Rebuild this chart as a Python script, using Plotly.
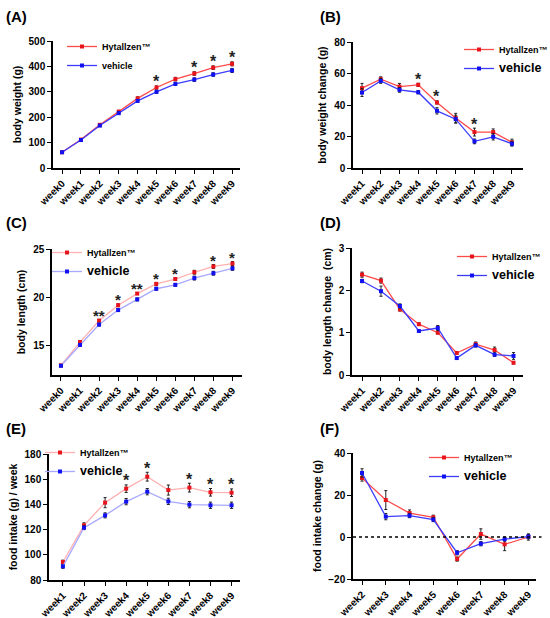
import plotly.graph_objects as go

# categories
weeks_a = ['week0', 'week1', 'week2', 'week3', 'week4', 'week5', 'week6', 'week7', 'week8', 'week9']
weeks_b = weeks_a[1:]
weeks_f = weeks_a[2:]

# (A) body weight (g)
bw_hyt = [62, 112, 170, 222, 274, 317, 350, 372, 395, 410]
bw_hyt_err = [3, 3, 4, 5, 6, 6, 7, 7, 7, 8]
bw_veh = [62, 110, 167, 216, 264, 300, 331, 348, 368, 384]
bw_veh_err = [3, 3, 4, 5, 5, 6, 6, 7, 7, 8]
bw_stars = ['', '', '', '', '', '*', '', '*', '*', '*']

# (B) body weight change (g)
bwc_hyt = [50.7, 56.4, 51.7, 52.8, 41.6, 31.7, 22.8, 22.8, 16.3]
bwc_hyt_err = [3, 1.5, 2, 1, 1, 3, 2.5, 2, 2]
bwc_veh = [47.9, 55.3, 49.6, 48.1, 36.3, 31.0, 16.9, 19.8, 15.4]
bwc_veh_err = [2.5, 1.5, 1.5, 1, 2, 2.5, 1.5, 2, 1.5]
bwc_stars = ['', '', '', '*', '*', '', '*', '', '']

# (C) body length (cm)
bl_hyt = [13.0, 15.4, 17.6, 19.2, 20.4, 21.4, 21.9, 22.6, 23.2, 23.5]
bl_hyt_err = [0.1, 0.15, 0.15, 0.15, 0.1, 0.15, 0.15, 0.2, 0.2, 0.2]
bl_veh = [12.95, 15.1, 17.2, 18.7, 19.8, 20.9, 21.3, 22.0, 22.5, 23.0]
bl_veh_err = [0.1, 0.15, 0.15, 0.15, 0.15, 0.15, 0.15, 0.2, 0.2, 0.2]
bl_stars = ['', '', '**', '*', '**', '*', '*', '', '*', '*']

# (D) body length change (cm)
blc_hyt = [2.37, 2.23, 1.55, 1.20, 1.00, 0.52, 0.73, 0.59, 0.29]
blc_hyt_err = [0.06, 0.06, 0.04, 0.03, 0.03, 0.03, 0.05, 0.07, 0.03]
blc_veh = [2.22, 1.98, 1.63, 1.04, 1.11, 0.40, 0.70, 0.48, 0.45]
blc_veh_err = [0.04, 0.12, 0.05, 0.03, 0.06, 0.03, 0.04, 0.04, 0.08]

# (E) food intake (g) / week
fi_hyt = [94.3, 123.4, 141.4, 152.5, 162.0, 151.4, 153.3, 149.6, 149.3]
fi_hyt_err = [1.5, 2, 4, 3, 3.5, 4, 3.5, 3, 3]
fi_veh = [90.8, 121.5, 131.3, 142.2, 150.1, 142.4, 139.8, 139.3, 139.3]
fi_veh_err = [1.5, 1.5, 2, 2.5, 2.5, 2.5, 2.5, 2.5, 2.5]
fi_stars = ['', '', '', '*', '*', '', '*', '*', '*']

# (F) food intake change (g)
fic_hyt = [28.1, 17.6, 11.4, 9.4, -10.5, 1.4, -3.5, 0.0]
fic_hyt_err = [1.5, 4.5, 1.5, 1, 1, 2.5, 3, 1.5]
fic_veh = [30.5, 9.7, 10.2, 8.3, -7.5, -3.2, -1.0, 0.2]
fic_veh_err = [2, 1.5, 1, 1, 1, 1, 1, 1]

W, H = 550, 618
FONT = 'Liberation Sans'

def px_x(p):
    return p / W

def px_y(p):
    return 1 - p / H

panels = [
    dict(tag='(A)', x=weeks_a, red=bw_hyt, rerr=bw_hyt_err, blue=bw_veh, berr=bw_veh_err,
         stars=bw_stars, ytitle='body weight (g)', yrange=[0, 500], dtick=100,
         xr=[-0.48, 9.42], dom_x=[53, 240], dom_y=[168, 41],
         light=False, leg=(62, 32), big_vehicle=False, tagpos=(4, 16), star_size=16),
    dict(tag='(B)', x=weeks_b, red=bwc_hyt, rerr=bwc_hyt_err, blue=bwc_veh, berr=bwc_veh_err,
         stars=bwc_stars, ytitle='body weight change (g)', yrange=[0, 80], dtick=20,
         xr=[-0.48, 8.59], dom_x=[353, 523], dom_y=[168, 42],
         light=False, leg=(459, 35), big_vehicle=True, tagpos=(318, 16), star_size=16),
    dict(tag='(C)', x=weeks_a, red=bl_hyt, rerr=bl_hyt_err, blue=bl_veh, berr=bl_veh_err,
         stars=bl_stars, ytitle='body length (cm)', yrange=[12, 25], dtick=5,
         xr=[-0.47, 9.5], dom_x=[52, 242], dom_y=[375, 249],
         light=True, leg=(47, 238), big_vehicle=True, tagpos=(4, 222), star_size=15),
    dict(tag='(D)', x=weeks_b, red=blc_hyt, rerr=blc_hyt_err, blue=blc_veh, berr=blc_veh_err,
         stars=None, ytitle='body length change  (cm)', yrange=[0, 3], dtick=1,
         xr=[-0.53, 8.5], dom_x=[352, 523], dom_y=[375, 248],
         light=False, leg=(452, 242), big_vehicle=True, tagpos=(318, 222), star_size=15),
    dict(tag='(E)', x=weeks_b, red=fi_hyt, rerr=fi_hyt_err, blue=fi_veh, berr=fi_veh_err,
         stars=fi_stars, ytitle='food intake (g) / week', yrange=[80, 180], dtick=20,
         xr=[-0.66, 8.4], dom_x=[49, 240], dom_y=[580, 454],
         light=True, leg=(40, 438), big_vehicle=True, tagpos=(4, 428), star_size=16),
    dict(tag='(F)', x=weeks_f, red=fic_hyt, rerr=fic_hyt_err, blue=fic_veh, berr=fic_veh_err,
         stars=None, ytitle='food intake change (g)', yrange=[-20, 40], dtick=20,
         xr=[-0.38, 7.32], dom_x=[353, 536], dom_y=[579, 453],
         light=False, leg=(424, 443), big_vehicle=True, tagpos=(318, 428), star_size=15),
]

fig = go.Figure()
annotations = []
layout = {}

for i, p in enumerate(panels):
    n = '' if i == 0 else str(i + 1)
    xa, ya = 'x' + n, 'y' + n
    lg = 'legend' + n
    if p['light']:
        rline, bline = '#ffb0b0', '#a8a8ff'
    else:
        rline, bline = '#ff4a4a', '#3c3cff'
    veh_name = '<span style="font-size:12.5px">vehicle</span>' if p['big_vehicle'] else 'vehicle'

    fig.add_trace(go.Scatter(
        x=p['x'], y=p['red'], xaxis=xa, yaxis=ya, legend=lg,
        name='Hytallzen™', mode='lines+markers',
        line=dict(color=rline, width=1.3),
        marker=dict(symbol='square', size=4, color='#e8141c'),
        error_y=dict(type='data', array=p['rerr'], color='#222', thickness=1, width=1.5),
    ))
    fig.add_trace(go.Scatter(
        x=p['x'], y=p['blue'], xaxis=xa, yaxis=ya, legend=lg,
        name=veh_name, mode='lines+markers',
        line=dict(color=bline, width=1.3),
        marker=dict(symbol='square', size=4, color='#1010f0'),
        error_y=dict(type='data', array=p['berr'], color='#222', thickness=1, width=1.5),
    ))

    layout['xaxis' + n] = dict(
        domain=[px_x(p['dom_x'][0]), px_x(p['dom_x'][1])], anchor=ya, automargin=False,
        type='category', categoryorder='array', categoryarray=p['x'],
        range=p['xr'], showgrid=False, zeroline=False,
        showline=True, linecolor='black', linewidth=1.5,
        ticks='outside', ticklen=4, tickwidth=1.3, tickcolor='black',
        tickangle=-45, tickfont=dict(family=FONT, size=10, color='black', weight='bold'),
    )
    layout['yaxis' + n] = dict(
        domain=[px_y(p['dom_y'][0]), px_y(p['dom_y'][1])], anchor=xa, automargin=False,
        range=p['yrange'], dtick=p['dtick'], tick0=0, showgrid=False, zeroline=False,
        showline=True, linecolor='black', linewidth=1.5,
        ticks='outside', ticklen=4, tickwidth=1.3, tickcolor='black',
        tickfont=dict(family=FONT, size=10, color='black', weight='bold'),
        title=dict(text=p['ytitle'], standoff=5,
                   font=dict(family=FONT, size=10.5, color='black', weight='bold')),
    )
    layout[lg] = dict(
        x=px_x(p['leg'][0]), y=px_y(p['leg'][1]), xanchor='left', yanchor='top',
        bgcolor='rgba(0,0,0,0)', borderwidth=0,
        font=dict(family=FONT, size=9, color='black', weight='bold'),
    )

    annotations.append(dict(
        text=p['tag'], xref='paper', yref='paper',
        x=px_x(p['tagpos'][0]), y=px_y(p['tagpos'][1]), xanchor='left', yanchor='middle',
        showarrow=False, font=dict(family=FONT, size=15, color='black', weight='bold'),
    ))

    if p['stars']:
        for wk, val, err, s in zip(p['x'], p['red'], p['rerr'], p['stars']):
            if s:
                annotations.append(dict(
                    text=s, xref=xa, yref=ya, x=wk, y=val + err,
                    yanchor='middle', yshift=4, showarrow=False,
                    font=dict(family=FONT, size=p['star_size'], color='#222', weight='bold'),
                ))

shapes = [dict(type='line', xref='x6 domain', yref='y6', x0=0, x1=1.03, y0=0, y1=0,
               line=dict(color='black', width=1.5, dash='dot'))]

fig.update_layout(
    width=W, height=H, margin=dict(l=0, r=0, t=0, b=0, autoexpand=False),
    paper_bgcolor='white', plot_bgcolor='white',
    font=dict(family=FONT, color='black'),
    annotations=annotations, shapes=shapes,
    **layout
)

# page body has a default 8px margin; drop it so the 550x618 figure fills the window
fig.write_html("out.html", config={'displayModeBar': False},
               post_script="document.body.style.margin='0';")
